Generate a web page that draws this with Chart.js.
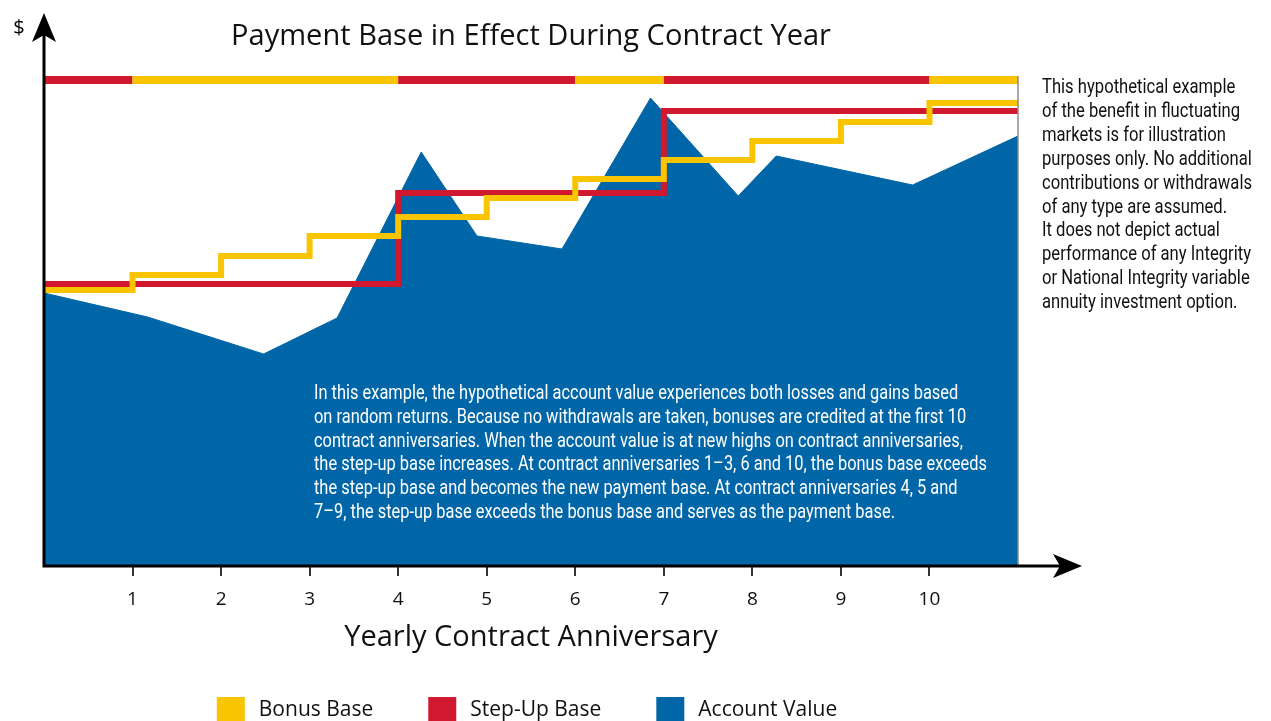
<!DOCTYPE html>
<html>
<head>
<meta charset="utf-8">
<script src="https://cdn.jsdelivr.net/npm/chart.js@4.4.1/dist/chart.umd.min.js"></script>
<style>
  html, body { margin: 0; padding: 0; background: #fff; }
  #wrap { width: 1271px; height: 721px; }
</style>
</head>
<body>
<div id="wrap"><canvas id="payment_chart" width="1271" height="721"></canvas></div>
<script>
// values (y in arbitrary $ units, 0..500)
const years = [0, 1, 2, 3, 4, 5, 6, 7, 8, 9, 10, 11];
const xTicks = [1, 2, 3, 4, 5, 6, 7, 8, 9, 10];
const bonusBase = [276, 291, 310, 330, 349, 368, 387, 406, 425, 444, 463, 463];
const stepUpBase = [282, 282, 282, 282, 373, 373, 373, 455, 455, 455, 455, 455];
const accountX = [0, 1.17, 2.48, 3.31, 4.26, 4.89, 5.85, 6.85, 7.84, 8.27, 9.81, 11];
const accountValue = [273, 249, 212, 248, 414, 330, 317, 468, 370, 410, 381, 430];
// which base is the payment base in each contract year
const paymentSource = ['step', 'bonus', 'bonus', 'bonus', 'step', 'step', 'bonus', 'step', 'step', 'step', 'bonus'];
const paymentLevel = 486;

const YELLOW = '#f8c500';
const RED = '#d0182f';
const BLUE = '#0066a7';
const sourceColor = { bonus: YELLOW, step: RED };

const SANS = "'Open Sans', 'Noto Sans', sans-serif";
const NARROW = "'Liberation Sans Narrow', 'Roboto', sans-serif";

const noteLines = [
  'This hypothetical example',
  'of the benefit in fluctuating',
  'markets is for illustration',
  'purposes only. No additional',
  'contributions or withdrawals',
  'of any type are assumed.',
  'It does not depict actual',
  'performance of any Integrity',
  'or National Integrity variable',
  'annuity investment option.'
];
const exampleLines = [
  'In this example, the hypothetical account value experiences both losses and gains based',
  'on random returns. Because no withdrawals are taken, bonuses are credited at the first 10',
  'contract anniversaries. When the account value is at new highs on contract anniversaries,',
  'the step-up base increases. At contract anniversaries 1\u20133, 6 and 10, the bonus base exceeds',
  'the step-up base and becomes the new payment base. At contract anniversaries 4, 5 and',
  '7\u20139, the step-up base exceeds the bonus base and serves as the payment base.'
];

// draw lines of text squeezed to a given widest-line width
function drawBlock(ctx, lines, left, firstY, gap, widest, font, color) {
  ctx.save();
  ctx.font = font;
  const w = Math.max(...lines.map(t => ctx.measureText(t).width));
  ctx.translate(left, 0);
  ctx.scale(widest / w, 1);
  ctx.fillStyle = color;
  ctx.textAlign = 'left';
  ctx.textBaseline = 'middle';
  lines.forEach((t, i) => ctx.fillText(t, 0, firstY + i * gap));
  ctx.restore();
}

function drawFit(ctx, text, cx, cy, width, font, color) {
  ctx.save();
  ctx.font = font;
  const w = ctx.measureText(text).width;
  ctx.translate(cx, cy);
  ctx.scale(width / w, 1);
  ctx.fillStyle = color;
  ctx.textAlign = 'center';
  ctx.textBaseline = 'middle';
  ctx.fillText(text, 0, 0);
  ctx.restore();
}

const decorations = {
  id: 'decorations',
  afterDraw(chart) {
    const { ctx, chartArea: a, scales: { y } } = chart;
    ctx.save();

    // thin right edge of the plot
    ctx.strokeStyle = '#8c8c8c';
    ctx.lineWidth = 1.5;
    ctx.beginPath();
    ctx.moveTo(a.right, y.getPixelForValue(paymentLevel) - 4);
    ctx.lineTo(a.right, a.bottom);
    ctx.stroke();

    // axes with arrow heads
    ctx.strokeStyle = '#000';
    ctx.fillStyle = '#000';
    ctx.lineWidth = 3;
    ctx.beginPath();
    ctx.moveTo(a.left, a.bottom + 1.5);
    ctx.lineTo(a.left, 34);
    ctx.moveTo(a.left - 1.5, a.bottom);
    ctx.lineTo(a.right + 50, a.bottom);
    ctx.stroke();

    ctx.beginPath();
    ctx.moveTo(a.left, 13);
    ctx.lineTo(a.left + 12, 42);
    ctx.lineTo(a.left, 35);
    ctx.lineTo(a.left - 12, 42);
    ctx.closePath();
    ctx.fill();

    const tipX = a.right + 64;
    ctx.beginPath();
    ctx.moveTo(tipX, a.bottom);
    ctx.lineTo(tipX - 29, a.bottom - 12);
    ctx.lineTo(tipX - 22, a.bottom);
    ctx.lineTo(tipX - 29, a.bottom + 12);
    ctx.closePath();
    ctx.fill();

    // "$" and title
    ctx.font = '20px ' + SANS;
    ctx.textAlign = 'center';
    ctx.textBaseline = 'middle';
    ctx.fillText('$', 19, 28);
    drawFit(ctx, 'Payment Base in Effect During Contract Year', (a.left + a.right) / 2, 37, 600, '29px ' + SANS, '#111');

    // text blocks
    drawBlock(ctx, noteLines, 1042, 88, 23.9, 210, '20px ' + NARROW, '#111');
    drawBlock(ctx, exampleLines, 314, 394, 23.8, 673, '20px ' + NARROW, '#fff');

    // legend
    const items = chart.data.datasets.filter(d => d.legendColor);
    ctx.font = '21px ' + SANS;
    ctx.textAlign = 'left';
    let total = 0;
    items.forEach((d, i) => { total += 28 + 14 + ctx.measureText(d.label).width + (i < items.length - 1 ? 55 : 0); });
    let lx = 527 - total / 2;
    items.forEach(d => {
      ctx.fillStyle = d.legendColor;
      ctx.fillRect(lx, 697, 28, 26);
      ctx.fillStyle = '#111';
      ctx.fillText(d.label, lx + 42, 710);
      lx += 28 + 14 + ctx.measureText(d.label).width + 55;
    });

    ctx.restore();
  }
};

const ctx = document.getElementById('payment_chart');

new Chart(ctx, {
  type: 'line',
  data: {
    datasets: [
      {
        label: 'Payment Base',
        data: years.map(x => ({ x, y: paymentLevel })),
        borderWidth: 8,
        borderColor: RED,
        borderCapStyle: 'butt',
        segment: { borderColor: c => sourceColor[paymentSource[c.p0DataIndex]] },
        pointRadius: 0,
        fill: false
      },
      {
        label: 'Bonus Base',
        legendColor: YELLOW,
        data: years.map((x, i) => ({ x, y: bonusBase[i] })),
        stepped: true,
        borderWidth: 6,
        borderColor: YELLOW,
        borderJoinStyle: 'miter',
        pointRadius: 0,
        fill: false
      },
      {
        label: 'Step-Up Base',
        legendColor: RED,
        data: years.map((x, i) => ({ x, y: stepUpBase[i] })),
        stepped: true,
        borderWidth: 6,
        borderColor: RED,
        borderJoinStyle: 'miter',
        pointRadius: 0,
        fill: false
      },
      {
        label: 'Account Value',
        legendColor: BLUE,
        data: accountX.map((x, i) => ({ x, y: accountValue[i] })),
        borderWidth: 1,
        borderColor: BLUE,
        backgroundColor: BLUE,
        fill: 'origin',
        tension: 0,
        pointRadius: 0
      }
    ]
  },
  options: {
    responsive: false,
    animation: false,
    layout: { padding: { left: 44, right: 253, top: 66, bottom: 0 } },
    plugins: {
      legend: { display: false },
      tooltip: { enabled: false },
      title: { display: false }
    },
    scales: {
      x: {
        type: 'linear',
        min: 0,
        max: 11,
        afterBuildTicks: axis => { axis.ticks = xTicks.map(v => ({ value: v })); },
        afterFit: axis => { axis.height = 155; },
        border: { display: false },
        grid: { drawOnChartArea: false, drawTicks: true, tickLength: 10, color: '#333', lineWidth: 2 },
        ticks: { font: { family: SANS, size: 19 }, color: '#111', padding: 12, autoSkip: false, maxRotation: 0 },
        title: {
          display: true,
          text: 'Yearly Contract Anniversary',
          font: { family: SANS, size: 29 },
          color: '#111',
          padding: { top: 0, bottom: 66 }
        }
      },
      y: { display: false, min: 0, max: 500 }
    }
  },
  plugins: [decorations]
});
</script>
</body>
</html>
